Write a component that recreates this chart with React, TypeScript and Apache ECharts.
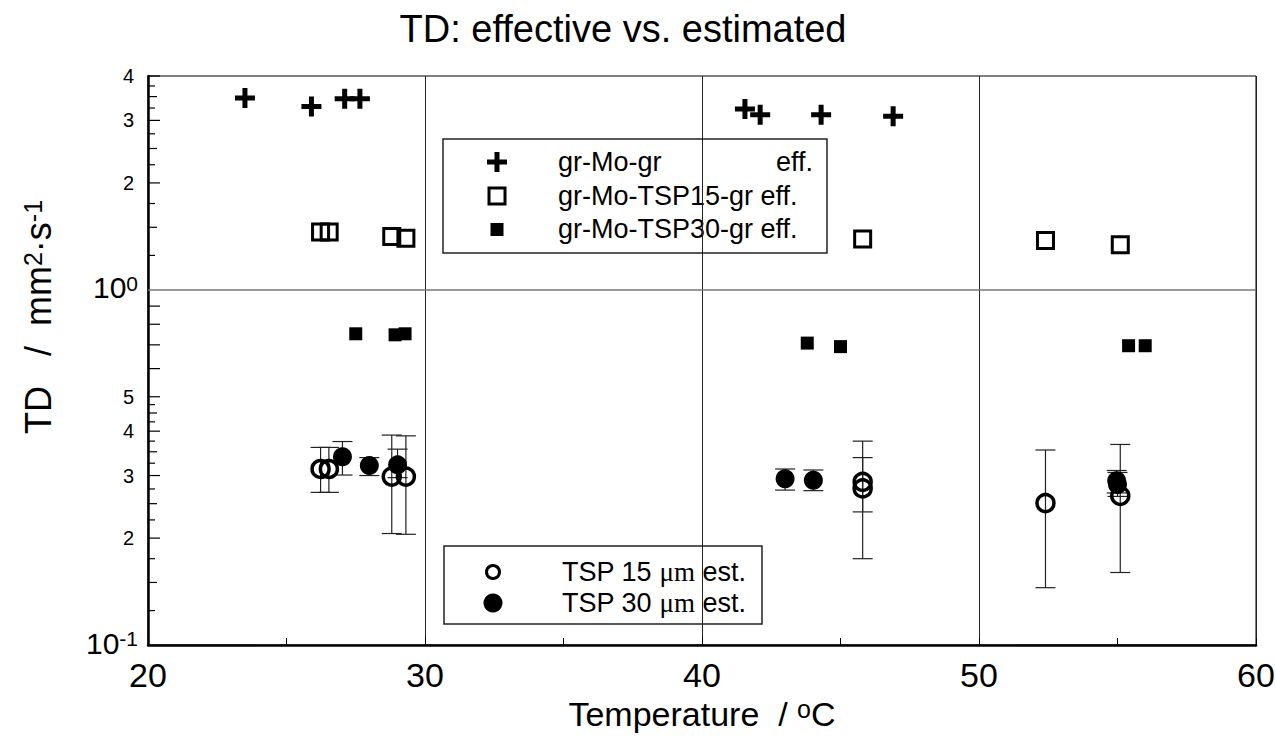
import React, { useEffect, useRef } from "react";
import * as echarts from "echarts";

const FONT = "'Liberation Sans', Arial, Helvetica, sans-serif";
const SERIF = "'Liberation Serif', 'Times New Roman', serif";

// Axes
const X_MIN = 20;
const X_MAX = 60;
const X_STEP = 10;
const Y_MIN = 0.1;
const Y_MAX = 4;

// Y axis ticks (log scale)
const Y_TICKS_LONG = [0.2, 0.3, 0.4, 0.5, 0.6, 0.7, 0.8, 0.9, 2, 3, 4];
const Y_TICKS_MID = [0.15, 0.25, 0.35, 0.45, 1.5, 2.5, 3.5];
const Y_TICKS_SHORT = [0.125, 0.175, 0.225, 0.275, 0.325, 0.375, 0.425, 0.475, 1.25, 1.75, 2.25, 2.75, 3.25, 3.75];
const Y_LABEL_VALUES = [0.1, 0.2, 0.3, 0.4, 0.5, 1, 2, 3, 4];
const Y_LABEL_TEXTS = ["{b|10}{s|-1}", "{n|2}", "{n|3}", "{n|4}", "{n|5}", "{b|10}{s|0}", "{n|2}", "{n|3}", "{n|4}"];

// gr-Mo-gr eff. (plus)
const grMoGrX = [23.5, 25.9, 27.1, 27.65, 41.55, 42.1, 44.3, 46.9];
const grMoGrY = [3.47, 3.28, 3.45, 3.45, 3.23, 3.11, 3.11, 3.08];

// gr-Mo-TSP15-gr eff. (open square)
const tsp15EffX = [26.23, 26.54, 28.8, 29.31, 45.8, 52.4, 55.1];
const tsp15EffY = [1.456, 1.456, 1.413, 1.398, 1.39, 1.377, 1.34];

// gr-Mo-TSP30-gr eff. (filled square)
const tsp30EffX = [27.5, 28.92, 29.28, 43.8, 45.0, 55.4, 56.0];
const tsp30EffY = [0.752, 0.747, 0.752, 0.708, 0.692, 0.696, 0.696];

// TSP 15 um est. (open circle) with error bars
const tsp15EstX = [26.23, 26.53, 28.8, 29.31, 45.8, 45.8, 52.4, 55.1];
const tsp15EstY = [0.313, 0.313, 0.298, 0.298, 0.288, 0.276, 0.251, 0.263];
const tsp15EstLow = [0.269, 0.269, 0.206, 0.205, 0.237, 0.175, 0.145, 0.16];
const tsp15EstHigh = [0.36, 0.36, 0.39, 0.388, 0.337, 0.375, 0.354, 0.367];

// TSP 30 um est. (filled circle) with error bars
const tsp30EstX = [27.02, 27.99, 29.01, 43.0, 44.02, 54.97, 55.0];
const tsp30EstY = [0.339, 0.32, 0.3215, 0.294, 0.291, 0.29, 0.283];
const tsp30EstLow = [0.301, 0.3, 0.296, 0.273, 0.272, 0.268, 0.262];
const tsp30EstHigh = [0.374, 0.337, 0.356, 0.313, 0.311, 0.31, 0.306];

const PLUS_PATH = "path://M3.75 0H6.25V3.75H10V6.25H6.25V10H3.75V6.25H0V3.75H3.75Z";

function pairs(xs: number[], ys: number[]) {
  return xs.map((x, i) => [x, ys[i]]);
}

function errorSeries(xs: number[], lo: number[], hi: number[]) {
  return {
    type: "custom",
    silent: true,
    z: 2,
    encode: { x: 0, y: [1, 2] },
    data: xs.map((x, i) => [x, lo[i], hi[i]]),
    renderItem: (params: any, api: any) => {
      const x = api.value(0);
      const p1 = api.coord([x, api.value(1)]);
      const p2 = api.coord([x, api.value(2)]);
      const w = 10;
      const st = { stroke: "#222", lineWidth: 1.2 };
      return {
        type: "group",
        children: [
          { type: "line", shape: { x1: p1[0], y1: p1[1], x2: p2[0], y2: p2[1] }, style: st },
          { type: "line", shape: { x1: p1[0] - w, y1: p1[1], x2: p1[0] + w, y2: p1[1] }, style: st },
          { type: "line", shape: { x1: p2[0] - w, y1: p2[1], x2: p2[0] + w, y2: p2[1] }, style: st },
        ],
      };
    },
  };
}

function tickSeries(values: number[], len: number) {
  return {
    type: "custom",
    silent: true,
    z: 5,
    encode: { x: 0, y: 1 },
    data: values.map((v) => [X_MIN, v]),
    renderItem: (params: any, api: any) => {
      const p = api.coord([X_MIN, api.value(1)]);
      return {
        type: "line",
        shape: { x1: p[0], y1: p[1], x2: p[0] + len, y2: p[1] },
        style: { stroke: "#000", lineWidth: 1.2 },
      };
    },
  };
}

const Y_LABEL_RICH = {
  n: { fontSize: 20, fontFamily: FONT, fill: "#000", color: "#000" },
  b: { fontSize: 30, lineHeight: 30, fontFamily: FONT, fill: "#000", color: "#000", verticalAlign: "bottom" },
  s: { fontSize: 21, lineHeight: 21, fontFamily: FONT, fill: "#000", color: "#000", verticalAlign: "top", padding: [0, 0, 20, 0] },
};

const yLabelSeries = {
  type: "custom",
  silent: true,
  z: 5,
  encode: { x: 0, y: 1 },
  data: Y_LABEL_VALUES.map((v) => [X_MIN, v]),
  renderItem: (params: any, api: any) => {
    const p = api.coord([X_MIN, api.value(1)]);
    const txt = Y_LABEL_TEXTS[params.dataIndex];
    const big = txt.indexOf("{b|") >= 0;
    return {
      type: "text",
      x: p[0] - (big ? 10 : 14),
      y: p[1] + (big ? -2 : 0),
      style: {
        text: txt,
        rich: Y_LABEL_RICH,
        align: "right",
        verticalAlign: "middle",
        fontFamily: FONT,
        fontSize: 20,
        fill: "#000",
      },
    };
  },
};

function plusPoints(cx: number, cy: number, s: number, t: number) {
  const h = s / 2;
  const k = t / 2;
  return [
    [cx - k, cy - h], [cx + k, cy - h], [cx + k, cy - k], [cx + h, cy - k],
    [cx + h, cy + k], [cx + k, cy + k], [cx + k, cy + h], [cx - k, cy + h],
    [cx - k, cy + k], [cx - h, cy + k], [cx - h, cy - k], [cx - k, cy - k],
  ];
}

export default function App() {
  const ref = useRef<HTMLDivElement>(null);

  useEffect(() => {
    if (!ref.current) return;
    const chart = echarts.init(ref.current, null, { renderer: "svg" });
    const legText = { fontSize: 27, fontFamily: FONT, fill: "#000" };

    const option: any = {
      animation: false,
      backgroundColor: "#fff",
      title: {
        text: "TD: effective vs. estimated",
        left: 623,
        top: 10,
        textAlign: "center",
        padding: 0,
        textStyle: { fontSize: 38, fontWeight: "normal", color: "#000", fontFamily: FONT },
      },
      grid: {
        left: 148,
        right: 20,
        top: 76,
        bottom: 92,
        containLabel: false,
        outerBoundsMode: "none",
        show: true,
        borderColor: "#000",
        borderWidth: 1,
        backgroundColor: "transparent",
      },
      xAxis: {
        type: "value",
        min: X_MIN,
        max: X_MAX,
        interval: X_STEP,
        name: "{t|Temperature  / }{s|o}{t|C}",
        nameLocation: "middle",
        nameGap: 51,
        nameTextStyle: {
          fontSize: 34,
          fontFamily: FONT,
          color: "#000",
          rich: {
            t: { fontSize: 34, lineHeight: 34, fontFamily: FONT, color: "#000", verticalAlign: "bottom" },
            s: { fontSize: 25, lineHeight: 25, fontFamily: FONT, color: "#000", verticalAlign: "top", padding: [0, 0, 17, 0] },
          },
        },
        axisLine: { show: true, lineStyle: { color: "#000", width: 2.5 } },
        axisTick: { show: true, inside: true, length: 7, lineStyle: { color: "#000", width: 1 } },
        minorTick: { show: true, splitNumber: 2, length: 7, lineStyle: { color: "#000", width: 1 } },
        axisLabel: { show: true, fontSize: 34, fontFamily: FONT, color: "#000", margin: 13 },
        splitLine: { show: true, lineStyle: { color: "#222", width: 1 } },
      },
      yAxis: {
        type: "log",
        logBase: 10,
        min: Y_MIN,
        max: Y_MAX,
        axisLine: { show: true, lineStyle: { color: "#000", width: 2.5 } },
        axisTick: { show: false },
        axisLabel: { show: false },
        splitLine: { show: false },
        minorSplitLine: { show: false },
      },
      graphic: [
        {
          type: "text",
          x: 38,
          y: 317,
          rotation: Math.PI / 2,
          style: {
            text: "{t|TD   /  mm}{s|2}{t|·s}{s|-1}",
            rich: {
              t: { fontSize: 36, lineHeight: 36, fontFamily: FONT, fill: "#000", verticalAlign: "bottom" },
              s: { fontSize: 25, lineHeight: 25, fontFamily: FONT, fill: "#000", verticalAlign: "top", padding: [0, 0, 17, 0] },
            },
            align: "center",
            verticalAlign: "middle",
            fontFamily: FONT,
            fontSize: 36,
            fill: "#000",
          },
        },
        // Legend 1
        {
          type: "group",
          z: 100,
          children: [
            { type: "rect", shape: { x: 443, y: 139, width: 384, height: 114 }, style: { fill: "#fff", stroke: "#222", lineWidth: 1.5 } },
            { type: "polygon", shape: { points: plusPoints(497, 162, 20, 5) }, style: { fill: "#000" } },
            { type: "rect", shape: { x: 489, y: 188, width: 16, height: 16 }, style: { fill: "none", stroke: "#000", lineWidth: 3 } },
            { type: "rect", shape: { x: 490.5, y: 223, width: 13, height: 13 }, style: { fill: "#000" } },
            { type: "text", x: 558, y: 162, style: { ...legText, text: "gr-Mo-gr", align: "left", verticalAlign: "middle" } },
            { type: "text", x: 813, y: 162, style: { ...legText, text: "eff.", align: "right", verticalAlign: "middle" } },
            { type: "text", x: 558, y: 196, style: { ...legText, text: "gr-Mo-TSP15-gr eff.", align: "left", verticalAlign: "middle" } },
            { type: "text", x: 558, y: 229, style: { ...legText, text: "gr-Mo-TSP30-gr eff.", align: "left", verticalAlign: "middle" } },
          ],
        },
        // Legend 2
        {
          type: "group",
          z: 100,
          children: [
            { type: "rect", shape: { x: 444, y: 546, width: 318, height: 78 }, style: { fill: "#fff", stroke: "#222", lineWidth: 1.5 } },
            { type: "circle", shape: { cx: 493, cy: 572, r: 6.5 }, style: { fill: "none", stroke: "#000", lineWidth: 3 } },
            { type: "circle", shape: { cx: 493, cy: 603, r: 9.5 }, style: { fill: "#000" } },
            {
              type: "text",
              x: 562,
              y: 572,
              style: {
                text: "{a|TSP 15 }{m|μm}{a| est.}",
                rich: { a: { ...legText }, m: { fontSize: 27, fontFamily: SERIF, fill: "#000" } },
                ...legText,
                align: "left",
                verticalAlign: "middle",
              },
            },
            {
              type: "text",
              x: 562,
              y: 603,
              style: {
                text: "{a|TSP 30 }{m|μm}{a| est.}",
                rich: { a: { ...legText }, m: { fontSize: 27, fontFamily: SERIF, fill: "#000" } },
                ...legText,
                align: "left",
                verticalAlign: "middle",
              },
            },
          ],
        },
      ],
      series: [
        tickSeries(Y_TICKS_LONG, 12),
        tickSeries(Y_TICKS_MID, 9),
        tickSeries(Y_TICKS_SHORT, 7),
        yLabelSeries,
        {
          name: "gr-Mo-gr eff.",
          type: "scatter",
          silent: true,
          z: 3,
          symbol: PLUS_PATH,
          symbolSize: 20,
          itemStyle: { color: "#000", opacity: 1 },
          data: pairs(grMoGrX, grMoGrY),
          markLine: {
            silent: true,
            symbol: "none",
            label: { show: false },
            lineStyle: { color: "#777", width: 1.5, type: "solid", opacity: 1 },
            data: [{ yAxis: 1 }],
          },
        },
        {
          name: "gr-Mo-TSP15-gr eff.",
          type: "scatter",
          silent: true,
          z: 3,
          symbol: "rect",
          symbolSize: 16,
          itemStyle: { color: "rgba(0,0,0,0)", borderColor: "#000", borderWidth: 3, opacity: 1 },
          data: pairs(tsp15EffX, tsp15EffY),
        },
        {
          name: "gr-Mo-TSP30-gr eff.",
          type: "scatter",
          silent: true,
          z: 3,
          symbol: "rect",
          symbolSize: 13,
          itemStyle: { color: "#000", opacity: 1 },
          data: pairs(tsp30EffX, tsp30EffY),
        },
        errorSeries(tsp15EstX, tsp15EstLow, tsp15EstHigh),
        errorSeries(tsp30EstX, tsp30EstLow, tsp30EstHigh),
        {
          name: "TSP 30 um est.",
          type: "scatter",
          silent: true,
          z: 3,
          symbol: "circle",
          symbolSize: 19,
          itemStyle: { color: "#000", opacity: 1 },
          data: pairs(tsp30EstX, tsp30EstY),
        },
        {
          name: "TSP 15 um est.",
          type: "scatter",
          silent: true,
          z: 4,
          symbol: "circle",
          symbolSize: 17,
          itemStyle: { color: "rgba(0,0,0,0)", borderColor: "#000", borderWidth: 3.5, opacity: 1 },
          data: pairs(tsp15EstX, tsp15EstY),
        },
      ],
    };

    chart.setOption(option);
    return () => chart.dispose();
  }, []);

  return (
    <div
      ref={ref}
      style={{ position: "fixed", left: 0, top: 0, width: 1276, height: 737, background: "#fff" }}
    />
  );
}
